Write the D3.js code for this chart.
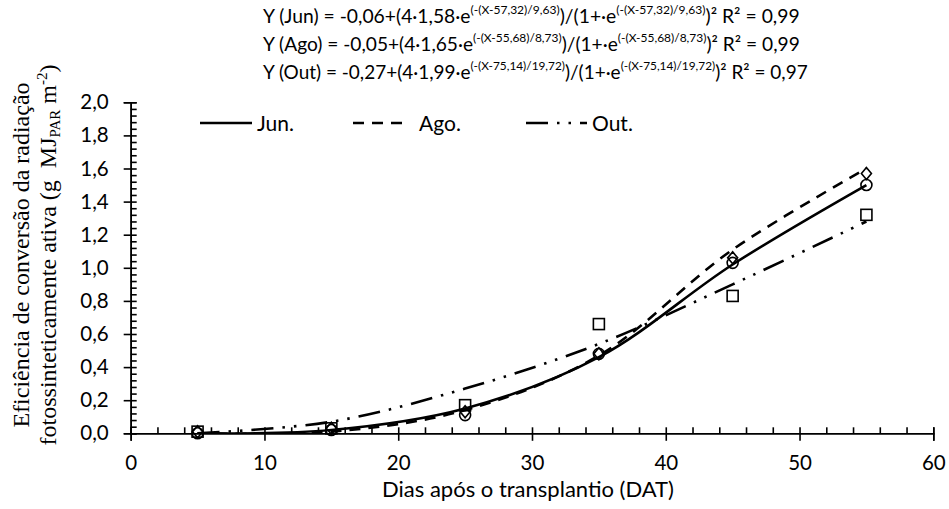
<!DOCTYPE html>
<html>
<head>
<meta charset="utf-8">
<script src="https://cdn.jsdelivr.net/npm/d3@7"></script>
<style>
body { margin: 0; background: #fff; }
text { font-family: Lato, "Open Sans", sans-serif; fill: #000; }
</style>
</head>
<body>
<script>
// observed values (markers)
const dat = [5, 15, 25, 35, 45, 55];
const junObs = [0.00, 0.02, 0.11, 0.48, 1.03, 1.50];
const agoObs = [0.01, 0.03, 0.13, 0.48, 1.06, 1.57];
const outObs = [0.01, 0.03, 0.17, 0.66, 0.83, 1.32];

// fitted curve values
const junFit = [0.00, 0.02, 0.15, 0.46, 1.02, 1.50];
const agoFit = [0.00, 0.01, 0.14, 0.47, 1.11, 1.60];
const outFit = [0.00, 0.07, 0.27, 0.54, 0.90, 1.28];

const seriesNames = ["Jun.", "Ago.", "Out."];
const xTicks = [0, 10, 20, 30, 40, 50, 60];
const yTicks = [0, 0.2, 0.4, 0.6, 0.8, 1.0, 1.2, 1.4, 1.6, 1.8, 2.0];

const equations = [
  {head: "Y (Jun) = -0,06+(4·1,58·e", exp: "(-(X-57,32)/9,63)", r2: "0,99"},
  {head: "Y (Ago) = -0,05+(4·1,65·e", exp: "(-(X-55,68)/8,73)", r2: "0,99"},
  {head: "Y (Out) = -0,27+(4·1,99·e", exp: "(-(X-75,14)/19,72)", r2: "0,97"}
];

const W = 949, H = 509;
const svg = d3.select("body").append("svg")
  .attr("width", W).attr("height", H);

const x = d3.scaleLinear().domain([0, 60]).range([130.7, 933.3]);
const y = d3.scaleLinear().domain([0, 2]).range([433.3, 102.3]);

const fmt = d => d.toFixed(1).replace(".", ",");

// clip
svg.append("clipPath").attr("id", "plot")
  .append("rect").attr("x", x(0)).attr("y", y(2) - 2)
  .attr("width", x(60) - x(0)).attr("height", y(0) - y(2) + 2);

// y axis
const minorY = d3.range(0, 51).map(i => i * 0.04);
const yAx = svg.append("g").attr("transform", `translate(${x(0)},0)`);
yAx.call(d3.axisLeft(y).tickValues(yTicks).tickSize(7).tickPadding(15).tickFormat(fmt));
yAx.call(g => g.append("g").call(d3.axisRight(y).tickValues(minorY).tickSize(6).tickFormat("")));

// x axis
const minorX = d3.range(0, 31).map(i => i * 2);
const xAx = svg.append("g").attr("transform", `translate(0,${y(0)})`);
xAx.call(d3.axisBottom(x).tickValues(xTicks).tickSize(7.5).tickPadding(15).tickFormat(d3.format("d")));
xAx.call(g => g.append("g").call(d3.axisTop(x).tickValues(minorX).tickSize(6).tickFormat("")));

svg.selectAll(".domain").attr("stroke", "#000").attr("stroke-width", 1.6);
svg.selectAll(".tick line").attr("stroke", "#000").attr("stroke-width", 1.6);
svg.selectAll(".tick text").attr("font-size", 20.5).attr("font-family", "Lato, sans-serif").attr("fill", "#000");

// curves
const line = d3.line()
  .x((d, i) => x(dat[i]))
  .y(d => y(d))
  .curve(d3.curveCatmullRom);

const styles = [
  {fit: junFit, dash: null},
  {fit: agoFit, dash: "11,8"},
  {fit: outFit, dash: "22,9,2.5,9,2.5,9"}
];

const plot = svg.append("g").attr("clip-path", "url(#plot)");
styles.forEach(s => {
  plot.append("path").datum(s.fit)
    .attr("d", line)
    .attr("fill", "none")
    .attr("stroke", "#000")
    .attr("stroke-width", 2.6)
    .attr("stroke-dasharray", s.dash);
});

// markers
const mk = svg.append("g").attr("fill", "none").attr("stroke", "#000").attr("stroke-width", 1.6);
mk.selectAll(".sq").data(outObs).join("rect")
  .attr("x", (d, i) => x(dat[i]) - 5.5).attr("y", d => y(d) - 5.5)
  .attr("width", 11).attr("height", 11);
mk.selectAll(".ci").data(junObs).join("circle")
  .attr("cx", (d, i) => x(dat[i])).attr("cy", d => y(d)).attr("r", 5.5);
mk.selectAll(".di").data(agoObs).join("path")
  .attr("d", (d, i) => {
    const cx = x(dat[i]), cy = y(d);
    return `M${cx},${cy - 6}L${cx + 5},${cy}L${cx},${cy + 6}L${cx - 5},${cy}Z`;
  });

// legend
const legendX = [[200, 252, 257], [353, 402, 419], [526, 587, 592]];
seriesNames.forEach((n, i) => {
  const [a, b, t] = legendX[i];
  svg.append("line").attr("x1", a).attr("x2", b).attr("y1", 123).attr("y2", 123)
    .attr("stroke", "#000").attr("stroke-width", 2.6)
    .attr("stroke-dasharray", styles[i].dash);
  svg.append("text").attr("x", t).attr("y", 130.5).attr("font-size", 21).text(n);
});

// equations, each line fitted to the width it has in the picture
const eqRight = [800, 800, 808];
equations.forEach((e, i) => {
  const t = svg.append("text").attr("x", 263).attr("y", 22.7 + i * 28.3).attr("font-size", 20);
  t.append("tspan").text(e.head);
  t.append("tspan").attr("class", "sup").attr("font-size", 12.5).attr("dy", -9).text(e.exp);
  t.append("tspan").attr("dy", 9).text(")/(1+·e");
  t.append("tspan").attr("class", "sup").attr("font-size", 12.5).attr("dy", -9).text(e.exp);
  t.append("tspan").attr("dy", 9).text(")² R² = " + e.r2);
  const len = t.node().getComputedTextLength();
  const k = (eqRight[i] - 263) / len;
  t.attr("font-size", 20 * k);
  t.selectAll(".sup").attr("font-size", 12.5 * k);
});

// axis titles
svg.append("text").attr("x", 528).attr("y", 497).attr("text-anchor", "middle")
  .attr("font-size", 22).text("Dias após o transplantio (DAT)");

const yl = svg.append("g").attr("transform", "translate(0,255) rotate(-90)")
  .style("font-family", "'Liberation Serif', 'Times New Roman', serif");
yl.append("text").attr("x", 0).attr("y", 29).attr("text-anchor", "middle")
  .attr("font-size", 24).style("font-family", "inherit")
  .text("Eficiência de conversão da radiação");
const l2 = yl.append("text").attr("x", 0).attr("y", 56).attr("text-anchor", "middle")
  .attr("font-size", 24).style("font-family", "inherit").style("white-space", "pre");
l2.append("tspan").text("fotossinteticamente ativa (g  MJ");
l2.append("tspan").attr("font-size", 15).attr("dy", 4).text("PAR");
l2.append("tspan").attr("dy", -4).text(" m");
l2.append("tspan").attr("font-size", 15).attr("dy", -9).text("-2");
l2.append("tspan").attr("dy", 9).text(")");
</script>
</body>
</html>
